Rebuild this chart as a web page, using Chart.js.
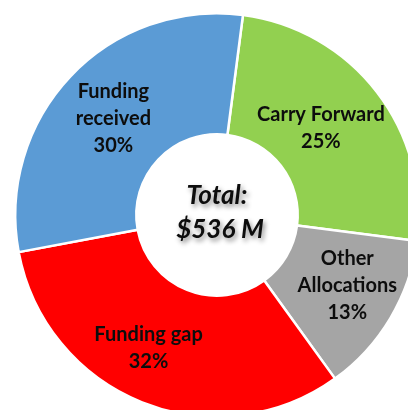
<!DOCTYPE html>
<html>
<head>
<meta charset="utf-8">
<script src="https://cdn.jsdelivr.net/npm/chart.js@4/dist/chart.umd.min.js"></script>
<style>
  html, body { margin: 0; padding: 0; background: #fff; overflow: hidden; }
  #wrap { width: 408px; height: 410px; overflow: hidden; position: relative; }
  #myChart { position: absolute; left: 0; top: 0; }
</style>
</head>
<body>
<div id="wrap"><canvas id="myChart" width="434" height="430"></canvas></div>
<script>
// slices, clockwise from just right of 12 o'clock
let categories = [['Carry Forward'], ['Other', 'Allocations'], ['Funding gap'], ['Funding', 'received']]
let shares = [25, 13, 32, 30]
let sliceColors = ['#92D050', '#A5A5A5', '#FF0000', '#5B9BD5']
let totalLabel = ['Total:', '$536 M']

// small nudges for the in-slice labels (px), excel didn't center them exactly
let labelNudge = [[-8, -1], [9, -2], [-16, 2], [-1, 1]]

const sliceLabels = {
  id: 'sliceLabels',
  afterDatasetsDraw(chart) {
    const ctx = chart.ctx
    const meta = chart.getDatasetMeta(0)
    ctx.save()
    ctx.fillStyle = '#0d0d0d'
    ctx.font = 'bold 20px Lato'
    ctx.textAlign = 'center'
    ctx.textBaseline = 'middle'
    meta.data.forEach((arc, i) => {
      const p = arc.tooltipPosition()
      const lines = categories[i].concat([shares[i] + '%'])
      const lh = 27
      const y0 = p.y + labelNudge[i][1] - (lines.length - 1) * lh / 2
      lines.forEach((t, k) => ctx.fillText(t, p.x + labelNudge[i][0], y0 + k * lh))
    })

    // total in the hole, with the soft shadow
    const cx = meta.data[0].x, cy = meta.data[0].y
    ctx.font = 'italic bold 26px Lato'
    ctx.shadowColor = 'rgba(0,0,0,0.45)'
    ctx.shadowBlur = 5
    ctx.shadowOffsetX = 2
    ctx.shadowOffsetY = 3
    ctx.fillText(totalLabel[0], cx, cy - 19)
    ctx.fillText(totalLabel[1], cx + 3, cy + 15)
    ctx.restore()
  }
}

const data = {
  labels: categories.map(c => c.join(' ')),
  datasets: [{
    data: shares,
    backgroundColor: sliceColors,
    borderColor: '#ffffff',
    borderWidth: 2.5,
    hoverOffset: 0
  }]
}

const config = {
  type: 'doughnut',
  data: data,
  options: {
    responsive: false,
    animation: false,
    events: [],
    rotation: 7.4,
    cutout: '40%',
    layout: { padding: { left: 14, right: 14, top: 12, bottom: 12 } },
    plugins: {
      legend: { display: false },
      tooltip: { enabled: false }
    }
  },
  plugins: [sliceLabels]
}

const myChart = new Chart(document.getElementById('myChart'), config)
</script>
</body>
</html>
